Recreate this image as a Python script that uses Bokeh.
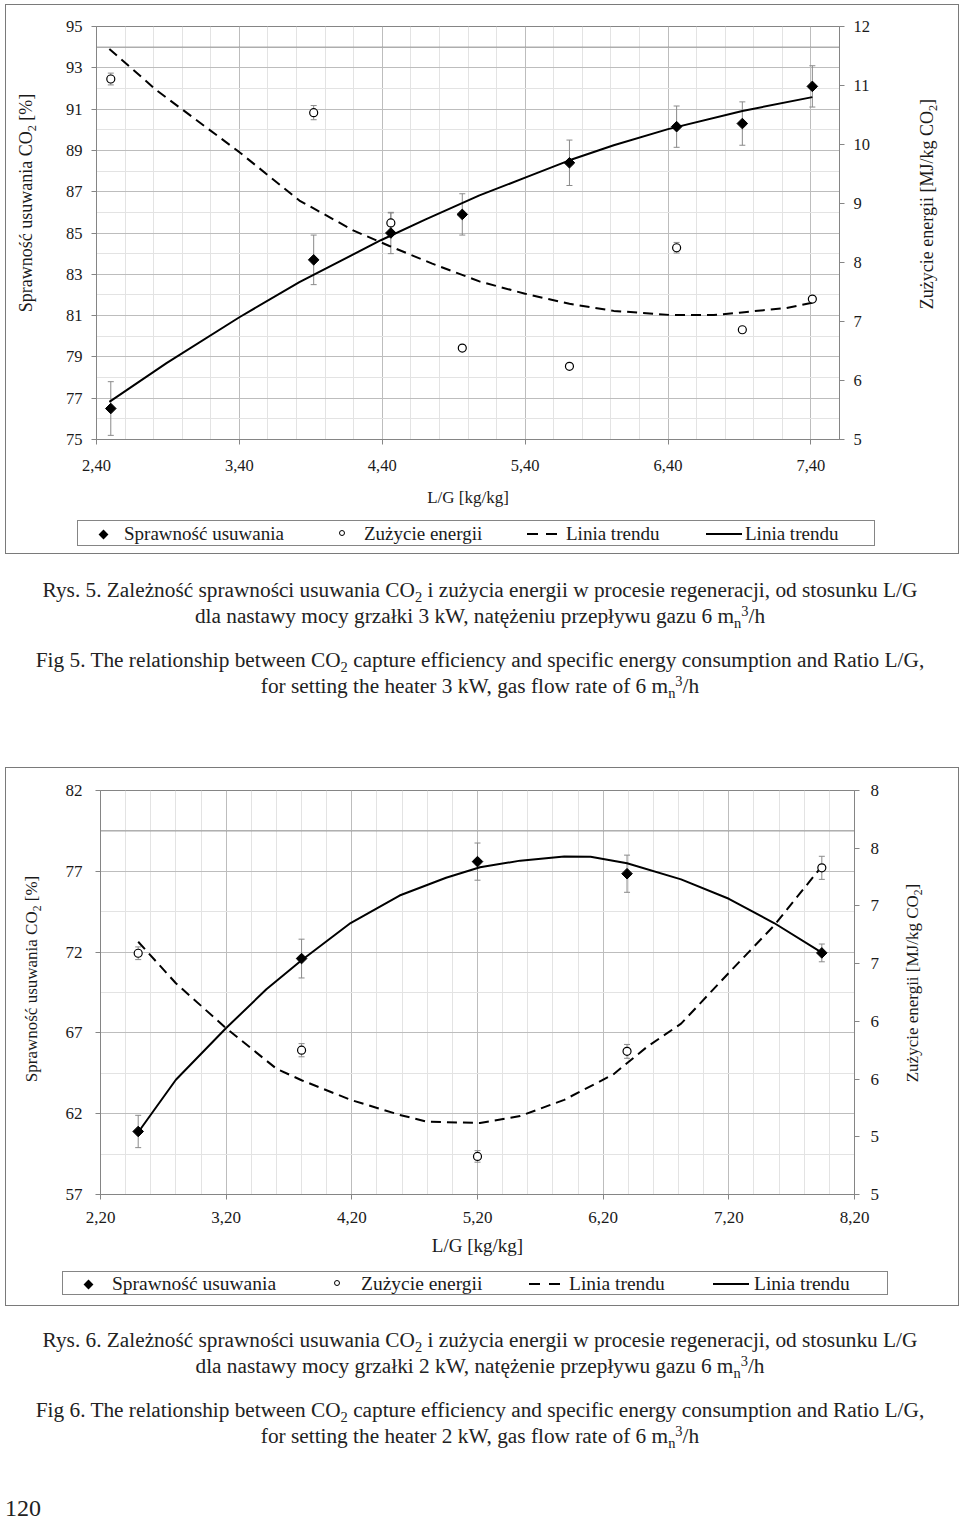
import math
from bokeh.embed import file_html
from bokeh.layouts import column, row
from bokeh.models import (ColumnDataSource, Div, FixedTicker, LinearAxis, Range1d, Span,
                          TeeHead, Whisker)
from bokeh.plotting import figure
from bokeh.resources import INLINE

# ---------------- Rys. 5 (heater 3 kW) ----------------
c1_lg = [2.50, 3.92, 4.46, 4.96, 5.71, 6.46, 6.92, 7.41]
c1_eff = [76.5, 83.7, 85.0, 85.9, 88.4, 90.15, 90.3, 92.1]
c1_eff_err = [1.3, 1.2, 1.0, 1.0, 1.1, 1.0, 1.05, 1.0]
c1_energy = [11.11, 10.54, 8.67, 6.55, 6.24, 8.25, 6.86, 7.38]
c1_energy_err = [0.10, 0.12, 0.17, 0.0, 0.0, 0.09, 0.0, 0.0]
c1_eff_trend_lg = [2.49, 2.89, 3.40, 3.82, 4.39, 4.70, 5.08, 5.40, 5.71, 6.02, 6.40, 6.92, 7.41]
c1_eff_trend = [76.82, 78.7, 80.92, 82.62, 84.65, 85.65, 86.82, 87.68, 88.52, 89.25, 90.03, 90.91, 91.58]
c1_energy_trend_lg = [2.49, 2.82, 3.40, 3.82, 4.20, 4.45, 4.75, 5.08, 5.40, 5.71, 6.02, 6.42,
                      6.72, 6.90, 7.23, 7.41]
c1_energy_trend = [11.62, 10.92, 9.87, 9.05, 8.54, 8.28, 7.98, 7.68, 7.47, 7.30, 7.18, 7.11,
                   7.11, 7.15, 7.23, 7.32]
c1_x_ticks = [2.4, 3.4, 4.4, 5.4, 6.4, 7.4]
c1_x_labels = ["2,40", "3,40", "4,40", "5,40", "6,40", "7,40"]
c1_x_minor = [2.6, 2.8, 3.0, 3.2, 3.6, 3.8, 4.0, 4.2, 4.6, 4.8, 5.0, 5.2, 5.6, 5.8, 6.0, 6.2,
              6.6, 6.8, 7.0, 7.2, 7.6]
c1_y_ticks = [75, 77, 79, 81, 83, 85, 87, 89, 91, 93, 95]
c1_y_minor = [76, 78, 80, 82, 84, 86, 88, 90, 92, 94]
c1_y2_ticks = [5, 6, 7, 8, 9, 10, 11, 12]
c1_y2_labels = ["5", "6", "7", "8", "9", "10", "11", "12"]
c1_dark_line = [94]

# ---------------- Rys. 6 (heater 2 kW) ----------------
c2_lg = [2.50, 3.80, 5.20, 6.39, 7.94]
c2_eff = [60.9, 71.6, 77.6, 76.85, 71.95]
c2_eff_err = [1.0, 1.2, 1.15, 1.15, 0.55]
c2_energy = [6.59, 5.75, 4.83, 5.74, 7.33]
c2_energy_err = [0.055, 0.057, 0.05, 0.06, 0.10]
c2_eff_trend_lg = [2.51, 2.80, 3.20, 3.52, 3.80, 4.19, 4.58, 4.95, 5.22, 5.54, 5.89, 6.10,
                   6.39, 6.82, 7.20, 7.56, 7.94]
c2_eff_trend = [60.96, 64.1, 67.3, 69.7, 71.5, 73.8, 75.5, 76.6, 77.25, 77.66, 77.92, 77.9,
                77.5, 76.5, 75.3, 73.8, 71.97]
c2_energy_trend_lg = [2.50, 2.80, 3.20, 3.60, 3.80, 4.19, 4.58, 4.80, 5.22, 5.54, 5.89, 6.28,
                      6.55, 6.82, 7.20, 7.56, 7.93]
c2_energy_trend = [6.69, 6.33, 5.94, 5.59, 5.49, 5.32, 5.19, 5.13, 5.12, 5.18, 5.32, 5.54,
                   5.78, 5.98, 6.42, 6.83, 7.33]
c2_x_ticks = [2.2, 3.2, 4.2, 5.2, 6.2, 7.2, 8.2]
c2_x_labels = ["2,20", "3,20", "4,20", "5,20", "6,20", "7,20", "8,20"]
c2_x_minor = [2.4, 2.6, 2.8, 3.0, 3.4, 3.6, 3.8, 4.0, 4.4, 4.6, 4.8, 5.0, 5.4, 5.6, 5.8, 6.0,
              6.4, 6.6, 6.8, 7.0, 7.4, 7.6, 7.8, 8.0]
c2_y_ticks = [57, 62, 67, 72, 77, 82]
c2_y_minor = [59.5, 64.5, 69.5, 74.5, 79.5]
c2_y2_ticks = [4.5, 5.0, 5.5, 6.0, 6.5, 7.0, 7.5, 8.0]
c2_y2_labels = ["5", "5", "6", "6", "7", "7", "8", "8"]
c2_dark_line = [79.5]

# ---------------- texts ----------------
legend_labels = ["Sprawność usuwania", "Zużycie energii", "Linia trendu", "Linia trendu"]
x_title = "L/G [kg/kg]"
SUB = '<span style="font-size:0.68em;line-height:0;position:relative;top:0.32em;">{}</span>'
SUP = '<span style="font-size:0.68em;line-height:0;position:relative;top:-0.45em;">{}</span>'
CO2 = "CO" + SUB.format("2")
MN3 = "m" + SUB.format("n") + SUP.format("3") + "/h"
y_title = f"Sprawność usuwania {CO2} [%]"
y2_title = f"Zużycie energii [MJ/kg {CO2}]"

SERIF = "Liberation Serif"
GRID_MAJOR = "#bdbdbd"
GRID_MINOR = "#e3e3e3"
AXIS = "#858585"
ERR = "#8a8a8a"
TXT = "#1a1a1a"
FRAME = "1px solid #7a7a7a"


def make_chart(cfg, d):
    p = figure(width=cfg["w"], height=cfg["h"], output_backend="svg", toolbar_location=None,
               x_range=Range1d(*d["x_range"]), y_range=Range1d(*d["y_range"]),
               min_border_left=cfg["bl"], min_border_right=cfg["br"],
               min_border_top=cfg["bt"], min_border_bottom=cfg["bb"],
               background_fill_color="white", border_fill_color="white",
               outline_line_color=AXIS)
    p.extra_y_ranges = {"right": Range1d(*d["y2_range"])}

    xt = FixedTicker(ticks=d["x_ticks"], minor_ticks=d["x_minor"])
    yt = FixedTicker(ticks=d["y_ticks"], minor_ticks=d["y_minor"])
    xax = p.xaxis[0]
    yax = p.yaxis[0]
    xax.ticker = xt
    yax.ticker = yt
    xax.major_label_overrides = dict(zip(d["x_ticks"], d["x_labels"]))
    p.xgrid[0].ticker = xt
    p.ygrid[0].ticker = yt
    for g in (p.xgrid[0], p.ygrid[0]):
        g.grid_line_color = GRID_MAJOR
        g.minor_grid_line_color = GRID_MINOR
        g.level = "underlay"

    y2 = LinearAxis(y_range_name="right",
                    ticker=FixedTicker(ticks=d["y2_ticks"]),
                    major_label_overrides=dict(zip(d["y2_ticks"], d["y2_labels"])))
    p.add_layout(y2, "right")

    xax.axis_label = x_title
    for ax in (xax, yax, y2):
        ax.axis_line_color = AXIS
        ax.major_tick_line_color = AXIS
        ax.major_tick_in = 0
        ax.major_tick_out = 5
        ax.minor_tick_line_color = None
        ax.major_label_text_font = SERIF
        ax.major_label_text_font_size = cfg["tick_fs"]
        ax.major_label_text_color = TXT
        ax.axis_label_text_font = SERIF
        ax.axis_label_text_font_style = "normal"
        ax.axis_label_text_color = TXT
    xax.axis_label_text_font_size = cfg["xt_fs"]
    xax.major_label_standoff = cfg["x_ls"]
    xax.axis_label_standoff = cfg["x_as"]
    yax.major_label_standoff = cfg["y_ls"]
    y2.major_label_standoff = cfg["y2_ls"]

    for v in d["dark"]:
        p.add_layout(Span(location=v, dimension="width", line_color="#8f8f8f",
                          line_width=1, level="underlay"))

    # error bars
    e_idx = [i for i, e in enumerate(d["eff_err"]) if e > 0]
    src_e = ColumnDataSource(dict(
        x=[d["lg"][i] for i in e_idx],
        lo=[d["eff"][i] - d["eff_err"][i] for i in e_idx],
        hi=[d["eff"][i] + d["eff_err"][i] for i in e_idx]))
    p.add_layout(Whisker(source=src_e, base="x", lower="lo", upper="hi",
                         line_color=ERR, line_width=1, level="underlay",
                         lower_head=TeeHead(size=6, line_color=ERR, line_width=1),
                         upper_head=TeeHead(size=6, line_color=ERR, line_width=1)))
    n_idx = [i for i, e in enumerate(d["en_err"]) if e > 0]
    src_n = ColumnDataSource(dict(
        x=[d["lg"][i] for i in n_idx],
        lo=[d["en"][i] - d["en_err"][i] for i in n_idx],
        hi=[d["en"][i] + d["en_err"][i] for i in n_idx]))
    p.add_layout(Whisker(source=src_n, base="x", lower="lo", upper="hi",
                         y_range_name="right",
                         line_color=ERR, line_width=1, level="underlay",
                         lower_head=TeeHead(size=6, line_color=ERR, line_width=1),
                         upper_head=TeeHead(size=6, line_color=ERR, line_width=1)))

    p.line(d["en_tr_x"], d["en_tr"], y_range_name="right", line_color="black",
           line_width=2, line_dash="10 6")
    p.line(d["eff_tr_x"], d["eff_tr"], line_color="black", line_width=2)
    p.scatter(d["lg"], d["eff"], marker="square", angle=math.pi / 4, size=7.5,
              fill_color="black", line_color="black")
    p.scatter(d["lg"], d["en"], y_range_name="right", marker="circle", size=8,
              fill_color="white", line_color="black", line_width=1.2)
    return p


def title_div(text, width, height, cx, cy, fs):
    html = (f'<div style="position:relative;width:{width}px;height:{height}px;background:#fff;">'
            f'<span style="position:absolute;left:{cx}px;top:{cy}px;'
            'transform:translate(-50%,-50%) rotate(-90deg);white-space:nowrap;'
            f"font-family:'{SERIF}';font-size:{fs};line-height:1.2;color:{TXT};\">{text}</span></div>")
    return Div(text=html, width=width, height=height, margin=0)


def legend_div(cfg):
    L = cfg["leg"]
    inner_h = L["h"] - 2
    mid = inner_h / 2
    ab = "position:absolute;"
    parts = []
    parts.append(f'<span style="{ab}left:{L["dia"] - 3.5}px;top:{mid - 3.5}px;width:7px;height:7px;'
                 'background:#000;transform:rotate(45deg);"></span>')
    parts.append(f'<span style="{ab}left:{L["cir"] - 4}px;top:{mid - 4}px;width:6px;height:6px;'
                 'border:1px solid #000;border-radius:50%;background:#fff;"></span>')
    for x0 in L["dash"]:
        parts.append(f'<span style="{ab}left:{x0}px;top:{mid - 1}px;width:11px;height:2px;'
                     'background:#000;"></span>')
    parts.append(f'<span style="{ab}left:{L["solid"][0]}px;top:{mid - 1}px;'
                 f'width:{L["solid"][1] - L["solid"][0]}px;height:2px;background:#000;"></span>')
    for lab, x0 in zip(legend_labels, L["text"]):
        parts.append(f'<span style="{ab}left:{x0}px;top:0;line-height:{inner_h}px;'
                     f'white-space:nowrap;">{lab}</span>')
    box = (f'<div style="position:absolute;left:{L["x"]}px;top:{L["y"]}px;width:{L["w"] - 2}px;'
           f'height:{inner_h}px;border:1px solid {AXIS};font-family:\'{SERIF}\';'
           f'font-size:{L["fs"]};color:{TXT};">' + "".join(parts) + "</div>")
    html = (f'<div style="position:relative;width:{cfg["total_w"]}px;height:{cfg["lh"]}px;'
            'background:#fff;">' + box + "</div>")
    return Div(text=html, width=cfg["total_w"], height=cfg["lh"], margin=0)


def make_block(cfg, d, margin):
    chart = make_chart(cfg, d)
    left = title_div(y_title, cfg["lw"], cfg["h"], cfg["lt"][0], cfg["lt"][1], cfg["yt_fs"])
    right = title_div(y2_title, cfg["rw"], cfg["h"], cfg["rt"][0], cfg["rt"][1], cfg["yt_fs"])
    return column(row(left, chart, right, spacing=0), legend_div(cfg), spacing=0,
                  styles={"border": FRAME}, margin=margin)


cfg1 = dict(total_w=952, lw=44, rw=52, w=856, h=505, lh=43, bl=46, br=67, bt=21, bb=71,
            tick_fs="16.5px", xt_fs="17px", yt_fs="18px", x_ls=15, x_as=14, y_ls=9, y2_ls=9,
            lt=(21, 197.5), rt=(22, 198.5),
            leg=dict(x=71, y=10, w=800, h=28, fs="19px", dia=25, cir=265, dash=[449, 468],
                     solid=[628, 664], text=[46, 286, 488, 667]))
d1 = dict(x_range=(2.4, 7.6), y_range=(75, 95), y2_range=(5, 12),
          x_ticks=c1_x_ticks, x_labels=c1_x_labels, x_minor=c1_x_minor,
          y_ticks=c1_y_ticks, y_minor=c1_y_minor, y2_ticks=c1_y2_ticks, y2_labels=c1_y2_labels,
          dark=c1_dark_line, lg=c1_lg, eff=c1_eff, eff_err=c1_eff_err, en=c1_energy,
          en_err=c1_energy_err, eff_tr_x=c1_eff_trend_lg, eff_tr=c1_eff_trend,
          en_tr_x=c1_energy_trend_lg, en_tr=c1_energy_trend)

cfg2 = dict(total_w=952, lw=44, rw=52, w=856, h=492, lh=45, bl=50, br=52, bt=22, bb=66,
            tick_fs="17px", xt_fs="19px", yt_fs="17px", x_ls=12, x_as=9, y_ls=13, y2_ls=11,
            lt=(26, 210.5), rt=(7, 214.5),
            leg=dict(x=56, y=11, w=828, h=26, fs="19.5px", dia=25, cir=275, dash=[466, 486],
                     solid=[650, 686], text=[49, 298, 506, 691]))
d2 = dict(x_range=(2.2, 8.2), y_range=(57, 82), y2_range=(4.5, 8.0),
          x_ticks=c2_x_ticks, x_labels=c2_x_labels, x_minor=c2_x_minor,
          y_ticks=c2_y_ticks, y_minor=c2_y_minor, y2_ticks=c2_y2_ticks, y2_labels=c2_y2_labels,
          dark=c2_dark_line, lg=c2_lg, eff=c2_eff, eff_err=c2_eff_err, en=c2_energy,
          en_err=c2_energy_err, eff_tr_x=c2_eff_trend_lg, eff_tr=c2_eff_trend,
          en_tr_x=c2_energy_trend_lg, en_tr=c2_energy_trend)

block1 = make_block(cfg1, d1, (4, 0, 0, 5))
block2 = make_block(cfg2, d2, (0, 0, 0, 5))

cap5_pl = [f"Rys. 5. Zależność sprawności usuwania {CO2} i zużycia energii w procesie regeneracji, od stosunku L/G",
           f"dla nastawy mocy grzałki 3 kW, natężeniu przepływu gazu 6 {MN3}"]
cap5_en = [f"Fig 5. The relationship between {CO2} capture efficiency and specific energy consumption and Ratio L/G,",
           f"for setting the heater 3 kW, gas flow rate of 6 {MN3}"]
cap6_pl = [f"Rys. 6. Zależność sprawności usuwania {CO2} i zużycia energii w procesie regeneracji, od stosunku L/G",
           f"dla nastawy mocy grzałki 2 kW, natężenie przepływu gazu 6 {MN3}"]
cap6_en = [f"Fig 6. The relationship between {CO2} capture efficiency and specific energy consumption and Ratio L/G,",
           f"for setting the heater 2 kW, gas flow rate of 6 {MN3}"]
page_number = "120"

BASE = ("font-family:'Liberation Serif';font-size:21.3px;line-height:26px;color:#222;"
        "text-align:center;width:960px;white-space:nowrap;")


def block(lines, top):
    return f'<div style="padding-top:{top}px;">' + "<br>".join(lines) + "</div>"


div1 = Div(text=f'<div style="{BASE}">' + block(cap5_pl, 23) + block(cap5_en, 18) + "</div>",
           width=960, height=213, margin=0)
div2 = Div(text=f'<div style="{BASE}">' + block(cap6_pl, 21) + block(cap6_en, 18)
                + '<div style="text-align:left;font-size:24px;line-height:24px;'
                  f'padding-top:47px;padding-left:5px;">{page_number}</div>'
                + "</div>",
           width=960, height=216, margin=0)

layout = column(block1, div1, block2, div2, spacing=0)
open("out.html", "w").write(file_html(layout, INLINE, title="Rys. 5 i Rys. 6"))
